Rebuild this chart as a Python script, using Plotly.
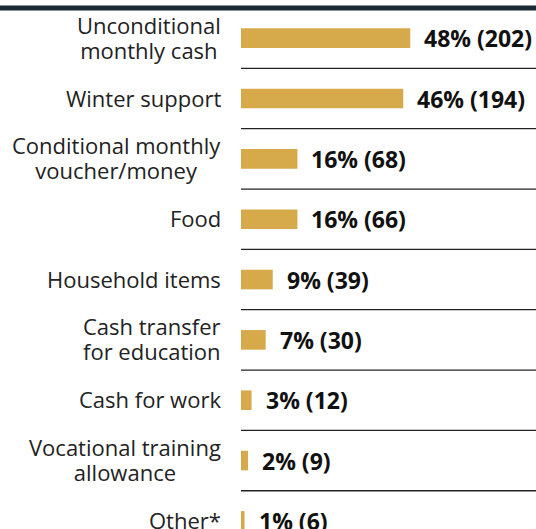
import plotly.graph_objects as go

categories = [
    "Unconditional<br>monthly cash",
    "Winter support",
    "Conditional monthly<br>voucher/money",
    "Food",
    "Household items",
    "Cash transfer<br>for education",
    "Cash for work",
    "Vocational training<br>allowance",
    "Other*",
]
percents = [48, 46, 16, 16, 9, 7, 3, 2, 1]
counts = [202, 194, 68, 66, 39, 30, 12, 9, 6]
value_labels = [f"{p}% ({c})" for p, c in zip(percents, counts)]

W, H = 536, 529
ML, MT = 241, 7.5
plot_w = W - ML
plot_h = H - MT
row_px = 60.4
rows_visible = plot_h / row_px
px_per_pct = 3.527
x_max = plot_w / px_per_pct

FONT = "Open Sans"
BAR = "#D6A94A"
CAT_SIZE = 22
VAL_SIZE = 23
LEAD_SIZE = 19  # base size that sets the (tight) line spacing

fig = go.Figure()
fig.add_trace(go.Bar(
    x=percents,
    y=list(range(len(categories))),
    orientation="h",
    width=0.325,
    marker=dict(color=BAR, line=dict(width=0)),
    hoverinfo="skip",
))

annotations = []
for i, (p, lab) in enumerate(zip(percents, value_labels)):
    annotations.append(dict(
        x=p, y=i, xref="x", yref="y",
        text=f"<b>{lab}</b>", showarrow=False,
        xanchor="left", yanchor="middle", xshift=12,
        font=dict(family=FONT, size=VAL_SIZE, color="#111111"),
    ))

for i, cat in enumerate(categories):
    lines = cat.split("<br>")
    txt = "<br>".join(
        f'<span style="font-size:{CAT_SIZE}px">{ln}</span>' for ln in lines
    )
    annotations.append(dict(
        x=0, y=i, xref="paper", yref="y",
        text=txt, showarrow=False, align="center",
        xanchor="right", yanchor="middle", xshift=-18, yshift=1,
        font=dict(family=FONT, size=LEAD_SIZE, color="#222222"),
    ))

shapes = []
for i in range(len(categories) - 1):
    shapes.append(dict(
        type="line", xref="x domain", yref="y",
        x0=0, x1=1, y0=i + 0.5, y1=i + 0.5,
        line=dict(color="#222222", width=1.3),
    ))
# top dark rule across the full width
shapes.append(dict(
    type="line", xref="paper", yref="paper",
    x0=-ML / plot_w, x1=1, y0=1, y1=1,
    line=dict(color="#1c2a37", width=5),
))

fig.update_layout(
    width=W, height=H,
    margin=dict(l=ML, r=0, t=MT, b=0, pad=0),
    paper_bgcolor="white", plot_bgcolor="white",
    showlegend=False,
    shapes=shapes,
    annotations=annotations,
    font=dict(family=FONT, size=CAT_SIZE, color="#222222"),
    xaxis=dict(range=[0, x_max], visible=False, fixedrange=True),
    yaxis=dict(
        range=[-0.5 + rows_visible, -0.5],
        showticklabels=False, ticks="",
        showgrid=False, zeroline=False, showline=False,
        fixedrange=True, automargin=False,
    ),
)

fig.write_html(
    "out.html",
    config={"displayModeBar": False},
    post_script="document.body.style.margin='0';document.body.style.overflow='hidden';",
)
